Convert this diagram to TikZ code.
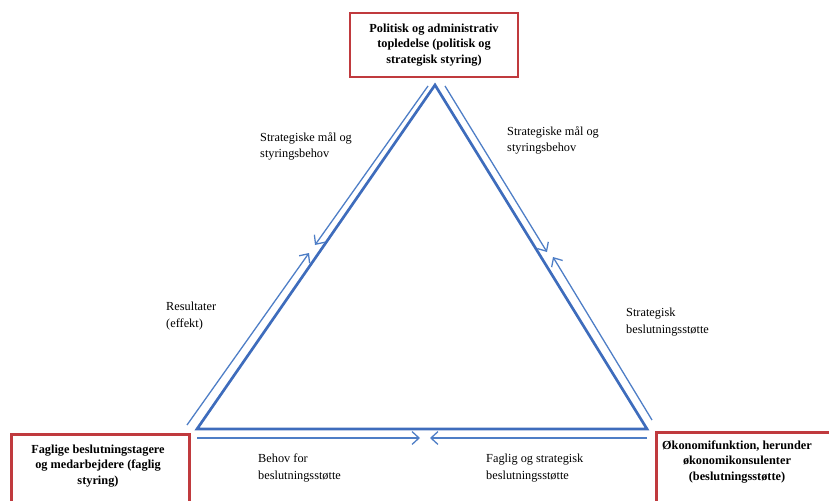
\documentclass[tikz,border=0pt]{standalone}
\usepackage{fontspec}
\setmainfont{Liberation Serif}
\usetikzlibrary{arrows.meta}
\definecolor{boxred}{RGB}{192,58,62}
\definecolor{linblue}{RGB}{62,108,188}
\definecolor{thinblue}{RGB}{78,126,198}
\tikzset{
  redbox/.style={draw=boxred, line width=2.4pt, fill=white},
  boxtext/.style={font=\fontsize{10.5}{13.2}\selectfont\bfseries, align=center, inner sep=0pt},
  lbl/.style={font=\fontsize{10.5}{13.8}\selectfont, align=left, inner sep=0pt, anchor=west},
  tri/.style={draw=linblue, line width=2.3pt, line join=miter},
  flow/.style={draw=thinblue, line width=1.1pt, -{Straight Barb[length=6pt,width=11pt,line width=1.1pt]}},
}
\begin{document}
\begin{tikzpicture}[x=0.03cm,y=-0.03cm]
\useasboundingbox (0,0) rectangle (829,501);
\clip (0,0) rectangle (829,501);

% boxes
\node[redbox, boxtext, minimum width=5.04cm, minimum height=1.92cm] (top) at (434,45)
  {Politisk og administrativ\\topledelse (politisk og\\strategisk styring)};
\node[redbox, minimum width=5.34cm, minimum height=3cm, anchor=north west] (fagbox) at (10,433) {};
\node[boxtext] (fag) at (98,466) {Faglige beslutningstagere\\og medarbejdere (faglig\\styring)};
\node[redbox, minimum width=6cm, minimum height=3cm, anchor=north west] (okobox) at (655,431) {};
\node[boxtext] (oko) at (737,462) {Økonomifunktion, herunder\\økonomikonsulenter\\(beslutningsstøtte)};

% triangle
\coordinate (A) at (435,85);
\coordinate (B) at (197,429);
\coordinate (C) at (647,429);
\draw[tri] (A) -- (B) -- (C) -- cycle;

% flow arrow end points
\coordinate (l1s) at (428,86);  \coordinate (l1e) at (315,245);
\coordinate (l2s) at (187,425); \coordinate (l2e) at (309,253);
\coordinate (r1s) at (445,86);  \coordinate (r1e) at (547,252);
\coordinate (r2s) at (652,420); \coordinate (r2e) at (553,257);
\coordinate (b1s) at (197,438); \coordinate (b1e) at (420,438);
\coordinate (b2s) at (647,438); \coordinate (b2e) at (430,438);

\draw[flow] (l1s) -- (l1e);
\draw[flow] (l2s) -- (l2e);
\draw[flow] (r1s) -- (r1e);
\draw[flow] (r2s) -- (r2e);
\draw[flow] (b1s) -- (b1e);
\draw[flow] (b2s) -- (b2e);

% labels
\node[lbl] (lab1) at (260,146) {Strategiske mål og\\styringsbehov};
\node[lbl] (lab2) at (507,140) {Strategiske mål og\\styringsbehov};
\node[lbl] (lab3) at (166,316) {Resultater\\(effekt)};
\node[lbl] (lab4) at (626,322) {Strategisk\\beslutningsstøtte};
\node[lbl] (lab5) at (258,468) {Behov for\\beslutningsstøtte};
\node[lbl] (lab6) at (486,468) {Faglig og strategisk\\beslutningsstøtte};
\end{tikzpicture}
\end{document}
